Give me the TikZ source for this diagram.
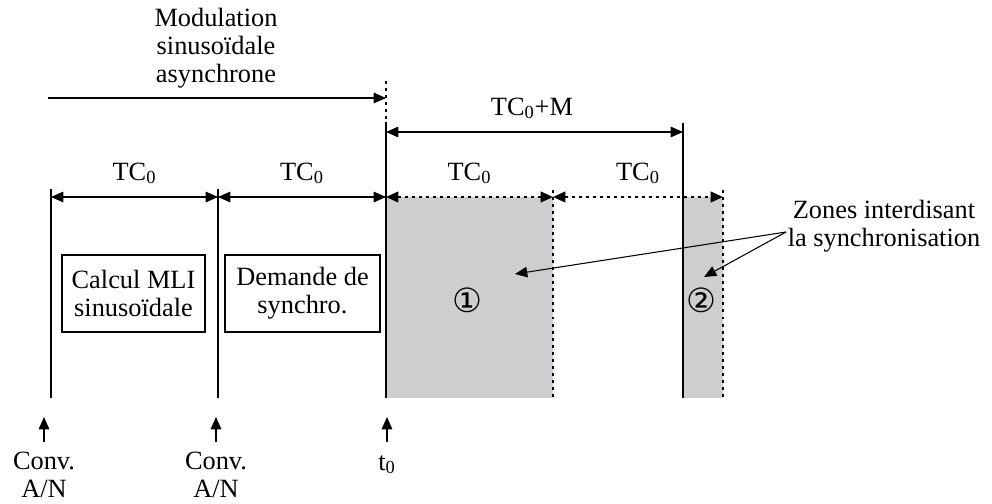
\documentclass[tikz,border=0pt]{standalone}
\usepackage{fontspec}
\setmainfont{Liberation Serif}
\newfontfamily\circfont{DejaVu Sans}
\usetikzlibrary{arrows.meta, positioning}
\definecolor{ZoneGray}{RGB}{205, 206, 208}

\begin{document}
\begin{tikzpicture}[x=0.02cm, y=-0.02cm, >={Triangle[length=7pt, width=6pt]},
    every node/.style={font=\fontsize{15}{16}\selectfont, inner sep=0pt},
    mark line/.style={line width=1.1pt},
    dot line/.style={line width=1.3pt, dash pattern=on 1.7pt off 2.3pt},
    dim/.style={<->, line width=0.6pt},
    taskbox/.style={draw, line width=0.6pt, align=center, minimum height=1.54cm}]
    \useasboundingbox (0,0) rectangle (992,504);
    % forbidden zones
    \fill[ZoneGray] (386,197) rectangle (553,398);
    \fill[ZoneGray] (683,197) rectangle (723,398);
    % time marks
    \coordinate (a1) at (51,189);  \coordinate (b1) at (51,398);
    \coordinate (a2) at (218,189); \coordinate (b2) at (218,398);
    \coordinate (a3) at (386,122); \coordinate (b3) at (386,398);
    \coordinate (m3) at (386,81);
    \coordinate (a4) at (683,123); \coordinate (b4) at (683,398);
    \coordinate (d1) at (553,190); \coordinate (e1) at (553,398);
    \coordinate (d2) at (723,190); \coordinate (e2) at (723,398);
    \draw[mark line] (a1) -- (b1);
    \draw[mark line] (a2) -- (b2);
    \draw[mark line] (a3) -- (b3);
    \draw[mark line] (a4) -- (b4);
    \draw[dot line] (m3) -- (a3);
    \draw[dot line] (d1) -- (e1);
    \draw[dot line] (d2) -- (e2);
    % periods
    \draw[dim] (51,197) -- (218,197);
    \draw[dim] (218,197) -- (386,197);
    \draw[dim, dot line, line width=1.3pt] (386,197) -- (553,197);
    \draw[dim, dot line, line width=1.3pt] (553,197) -- (723,197);
    \draw[dim] (386,132) -- (683,132);
    \node[anchor=base] (tc1) at (134.5,180) {TC\textsubscript{0}};
    \node[anchor=base] (tc2) at (302,180) {TC\textsubscript{0}};
    \node[anchor=base] (tc3) at (469.5,180) {TC\textsubscript{0}};
    \node[anchor=base] (tc4) at (638,180) {TC\textsubscript{0}};
    \node[anchor=base] (tcm) at (532,115) {TC\textsubscript{0}+M};
    % asynchronous modulation
    \node[align=center] (mod) at (216,48) {Modulation\\sinusoïdale\\asynchrone};
    \coordinate (mstart) at (48,98);
    \draw[->, line width=0.6pt] (mstart) -- (386,98);
    % tasks
    \node[taskbox, minimum width=2.86cm] (calc) at (133.5,293.5) {Calcul MLI\\sinusoïdale};
    \node[taskbox, minimum width=3.1cm] (sync) at (302.5,293.5) {Demande de\\synchro.};
    \node[font=\circfont\fontsize{19}{19}\selectfont] (z1) at (467,300) {①};
    \node[font=\circfont\fontsize{19}{19}\selectfont] (z2) at (701,300) {②};
    % legend
    \node[align=center] (zones) at (884,226) {Zones interdisant\\la synchronisation};
    \coordinate (zfrom) at (786,232);
    \coordinate (zto1) at (515,274);
    \coordinate (zto2) at (704,277);
    \draw[->, line width=0.6pt] (zfrom) -- (zto1);
    \draw[->, line width=0.6pt] (zfrom) -- (zto2);
    % sampling instants
    \node[align=center, anchor=north] (conv1) at (44,452) {Conv.\\A/N};
    \node[align=center, anchor=north] (conv2) at (216,452) {Conv.\\A/N};
    \node[anchor=base] (t0) at (387,470) {t\textsubscript{0}};
    \draw[->, line width=0.6pt] (44,442) -- (44,417);
    \draw[->, line width=0.6pt] (216,442) -- (216,417);
    \draw[->, line width=0.6pt] (387,442) -- (387,417);
\end{tikzpicture}
\end{document}
